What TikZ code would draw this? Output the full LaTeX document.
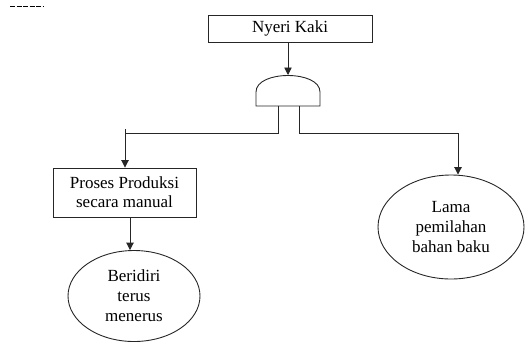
\documentclass[tikz,border=0pt]{standalone}
\usepackage{fontspec}
\setmainfont{Liberation Serif}
\usetikzlibrary{arrows.meta,shapes.geometric}
\begin{document}
\begin{tikzpicture}[x=1pt,y=-1pt,
  wire/.style={line width=0.9pt,draw=black!85},
  arr/.style={wire,-{Triangle[width=7.5pt,length=7.5pt]}},
  eventbox/.style={draw=black!85,line width=0.9pt,rectangle,align=center,
    font=\fontsize{17}{19}\selectfont,inner sep=0pt},
  basic/.style={draw=black!85,line width=0.9pt,ellipse,align=center,
    font=\fontsize{17}{20}\selectfont,inner sep=0pt}]
\useasboundingbox (0,0) rectangle (526,343);

% stray rule at the top left
\draw[line width=1pt,dash pattern=on 5pt off 1.5pt] (10,6) -- (43,6);

% top event
\node[eventbox,minimum width=164pt,minimum height=27pt] (top) at (290,28.5) {Nyeri Kaki};

% AND gate
\coordinate (gtop) at (288,75);
\coordinate (gl) at (278,106);
\coordinate (gr) at (299,106);
\draw[wire] (256,106) -- (256,92) .. controls (256,70) and (320,70) .. (320,92) -- (320,106) -- cycle;
\draw[arr] (top.south -| gtop) -- (gtop);

% branch points
\coordinate (bl) at (278,133.5);
\coordinate (blc) at (125,133.5);
\coordinate (blt) at (125,129);
\coordinate (br) at (299,133);
\coordinate (brc) at (458,133);
\coordinate (lowx) at (130,0);

% intermediate event and basic events
\node[eventbox,minimum width=143pt,minimum height=49pt] (proses) at (124.5,192.5) {Proses Produksi\\secara manual};
\node[basic,minimum width=132pt,minimum height=91pt] (beri) at (134,296) {Beridiri\\terus\\menerus};
\node[basic,minimum width=146pt,minimum height=104pt] (lama) at (451,227) {Lama\\pemilahan\\bahan baku};

% connectors
\draw[wire] (gl) -- (bl) -- (blc);
\draw[arr] (blt) -- (blt |- proses.north);
\draw[wire] (gr) -- (br) -- (brc);
\draw[arr] (brc) -- (brc |- lama.north);
\draw[arr] (proses.south -| lowx) -- (beri.north -| lowx);
\end{tikzpicture}
\end{document}
